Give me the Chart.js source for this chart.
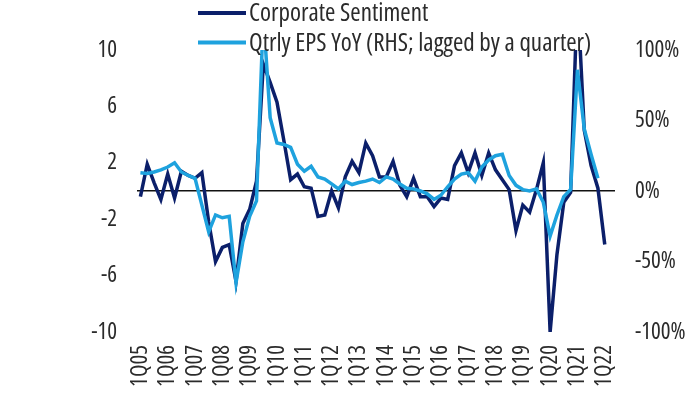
<!DOCTYPE html>
<html>
<head>
<meta charset="utf-8">
<script src="https://cdn.jsdelivr.net/npm/chart.js@4.4.1/dist/chart.umd.min.js"></script>
<style>
  html, body { margin: 0; padding: 0; background: #fff; }
  #wrap { width: 700px; height: 394px; }
</style>
</head>
<body>
<div id="wrap"><canvas id="chart" width="700" height="394"></canvas></div>
<script>
// quarterly categories, 1Q05 .. 2Q22
const quarters = [
  '1Q05','2Q05','3Q05','4Q05', '1Q06','2Q06','3Q06','4Q06', '1Q07','2Q07','3Q07','4Q07',
  '1Q08','2Q08','3Q08','4Q08', '1Q09','2Q09','3Q09','4Q09', '1Q10','2Q10','3Q10','4Q10',
  '1Q11','2Q11','3Q11','4Q11', '1Q12','2Q12','3Q12','4Q12', '1Q13','2Q13','3Q13','4Q13',
  '1Q14','2Q14','3Q14','4Q14', '1Q15','2Q15','3Q15','4Q15', '1Q16','2Q16','3Q16','4Q16',
  '1Q17','2Q17','3Q17','4Q17', '1Q18','2Q18','3Q18','4Q18', '1Q19','2Q19','3Q19','4Q19',
  '1Q20','2Q20','3Q20','4Q20', '1Q21','2Q21','3Q21','4Q21', '1Q22','2Q22'
];

// labels shown on the x axis
const tickLabels = ['1Q05','1Q06','1Q07','1Q08','1Q09','1Q10','1Q11','1Q12','1Q13',
  '1Q14','1Q15','1Q16','1Q17','1Q18','1Q19','1Q20','1Q21','1Q22'];

// Corporate Sentiment (LHS)
const sentiment = [
  -0.4, 1.9, 0.6, -0.6,  1.2, -0.5, 1.4, 1.1,  0.9, 1.3, -2.2, -5.0,
  -4.0, -3.8, -6.4, -2.3,  -1.3, 0.7, 9.0, 7.7,  6.3, 3.6, 0.8, 1.2,
  0.3, 0.2, -1.8, -1.7,  0.0, -1.2, 1.0, 2.1,  1.3, 3.4, 2.5, 1.0,
  1.0, 2.1, 0.4, -0.4,  0.9, -0.4, -0.4, -1.1,  -0.5, -0.6, 1.8, 2.7,
  1.3, 2.7, 1.1, 2.7,  1.5, 0.8, 0.1, -2.8,  -1.0, -1.5, 0.1, 2.0,
  -10.0, -4.5, -0.8, -0.1,  14.0, 4.3, 1.8, 0.2,  -3.8, null
];

// Qtrly EPS YoY, % (RHS; lagged by a quarter)
const epsYoY = [
  13, 12.5, 13.5, 15,  17, 20, 13.5, 11,  9, -10, -29, -17,
  -19, -18, -65, -36,  -18, -7, 125, 52,  34, 33, 31, 19,
  14, 17.5, 10, 8.5,  5, 1.5, 7, 4.6,  6, 7, 8.5, 6,
  10, 8.5, 5, 2,  1.5, 0, -2, -6,  -3, 3, 8.5, 12,
  13, 7, 17, 22,  25, 26, 11, 4,  1, 0, 1.5, -8,
  -32, -17, -4, 1,  86, 44, 26, 9,  null, null
];

const leftTicks = { min: -10, max: 10, step: 4 };
const rightTicks = { min: -100, max: 100, step: 50 };

const darkBlue = '#0b1f6a';
const lightBlue = '#1ea2de';
const textColor = '#2b2b2b';
const fontFamily = "'Open Sans', sans-serif";
// Open Sans is variable here, so "condensed" narrows it
const narrow = '400 condensed';

// legend drawn at the top left, one item per row
const stackedLegend = {
  id: 'stackedLegend',
  afterDraw(chart) {
    const ctx = chart.ctx;
    ctx.save();
    chart.data.datasets.forEach((ds, i) => {
      const y = 13 + i * 29.5;
      ctx.strokeStyle = ds.borderColor;
      ctx.lineWidth = 4;
      ctx.beginPath();
      ctx.moveTo(198, y);
      ctx.lineTo(246, y);
      ctx.stroke();
      ctx.fillStyle = textColor;
      ctx.font = narrow + ' 25px ' + fontFamily;
      ctx.textBaseline = 'alphabetic';
      ctx.fillText(ds.label, 249, y + 8);
    });
    ctx.restore();
  }
};

const ctx = document.getElementById('chart').getContext('2d');
new Chart(ctx, {
  type: 'line',
  data: {
    labels: quarters,
    datasets: [
      {
        label: 'Corporate Sentiment',
        data: sentiment,
        borderColor: darkBlue,
        backgroundColor: darkBlue,
        borderWidth: 3.5,
        pointRadius: 0,
        tension: 0,
        yAxisID: 'y',
        order: 1
      },
      {
        label: 'Qtrly EPS YoY (RHS; lagged by a quarter)',
        data: epsYoY,
        borderColor: lightBlue,
        backgroundColor: lightBlue,
        borderWidth: 3.5,
        pointRadius: 0,
        tension: 0,
        yAxisID: 'y1',
        order: 0
      }
    ]
  },
  options: {
    responsive: false,
    animation: false,
    layout: { padding: { top: 50, left: 0, right: 0, bottom: 0 } },
    plugins: {
      legend: { display: false },
      tooltip: { enabled: false }
    },
    scales: {
      x: {
        type: 'category',
        offset: true,
        grid: { display: false, drawTicks: false },
        border: { display: false },
        ticks: {
          autoSkip: false,
          minRotation: 90,
          maxRotation: 90,
          padding: 13,
          color: textColor,
          font: { family: fontFamily, size: 23, weight: narrow },
          callback: function (v, i) {
            const q = quarters[i];
            return tickLabels.includes(q) ? q : '';
          }
        },
        afterFit: function (scale) { scale.height = 62; }
      },
      y: {
        position: 'left',
        min: leftTicks.min,
        max: leftTicks.max,
        grid: { display: false, drawTicks: false },
        border: { display: false },
        ticks: {
          stepSize: leftTicks.step,
          padding: 20,
          color: textColor,
          font: { family: fontFamily, size: 23, weight: narrow }
        },
        afterFit: function (scale) { scale.width = 137; }
      },
      y1: {
        position: 'right',
        min: rightTicks.min,
        max: rightTicks.max,
        border: { display: false },
        grid: {
          drawTicks: false,
          lineWidth: 1.5,
          color: function (c) { return c.tick && c.tick.value === 0 ? '#111' : 'rgba(0,0,0,0)'; }
        },
        ticks: {
          stepSize: rightTicks.step,
          padding: 20,
          color: textColor,
          font: { family: fontFamily, size: 23, weight: narrow },
          callback: function (v) { return v + '%'; }
        },
        afterFit: function (scale) { scale.width = 85; }
      }
    }
  },
  plugins: [stackedLegend]
});
</script>
</body>
</html>
